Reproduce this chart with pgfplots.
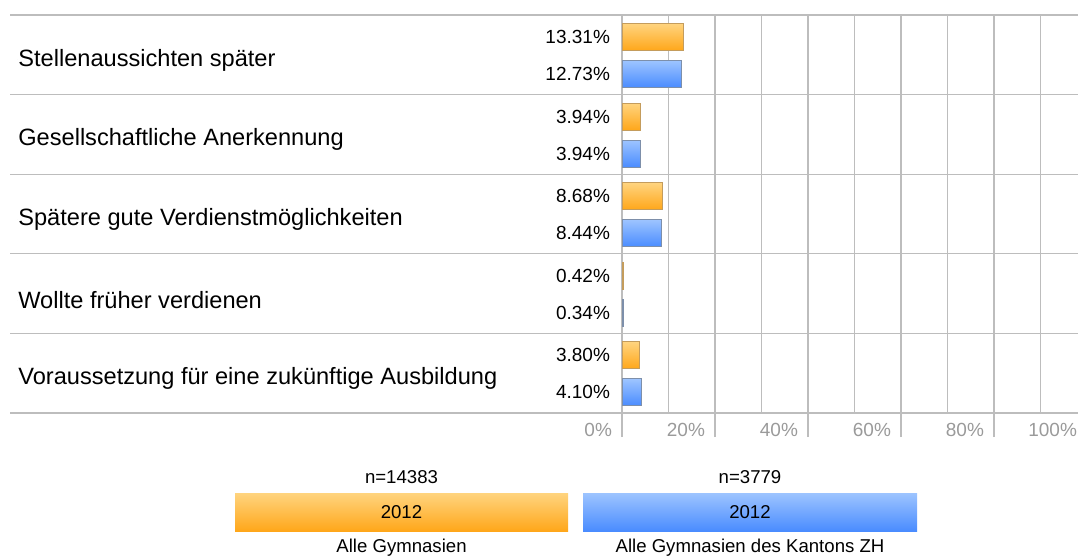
\documentclass[border=0pt]{standalone}
\usepackage{pgfplots}
\pgfplotsset{compat=1.18}
\usepackage{fontspec}
\setmainfont{Liberation Sans}
\definecolor{gridc}{HTML}{BDBDBD}
\definecolor{tickc}{HTML}{9A9A9A}
\definecolor{otop}{HTML}{FFD47F}
\definecolor{obot}{HTML}{FFA71A}
\definecolor{btop}{HTML}{9DC4FF}
\definecolor{bbot}{HTML}{4A8CFF}
\definecolor{oedge}{HTML}{C49C5C}
\definecolor{bedge}{HTML}{7D8FAA}
\pgfplotsset{
  obar/.style={xbar, bar shift=0pt, bar width=13.5pt, top color=otop, bottom color=obot, draw=oedge, line width=0.5pt},
  bbar/.style={xbar, bar shift=0pt, bar width=13.5pt, top color=btop, bottom color=bbot, draw=bedge, line width=0.5pt},
}
\begin{document}
\begin{tikzpicture}
\useasboundingbox (0,0) rectangle (539pt,-279pt);
\begin{axis}[
  at={(311pt,-206.5pt)}, anchor=south west,
  width=232.5pt, height=199pt, scale only axis,
  xmin=0, xmax=100, ymin=0, ymax=5, y dir=reverse,
  clip=false,
  axis line style={draw=none},
  xtick={0,20,40,60,80,100},
  minor xtick={10,30,50,70,90},
  xticklabels={0\%,20\%,40\%,60\%,80\%,100\%},
  xtick pos=lower,
  xmajorgrids, xminorgrids,
  major grid style={gridc, line width=0.6pt},
  minor grid style={gridc, line width=0.6pt},
  tick align=outside, major tick length=12pt, minor tick length=0pt,
  xtick style={gridc, line width=0.6pt},
  xticklabel style={font=\fontsize{9.5}{10}\selectfont, text=tickc, anchor=base east, xshift=-1.5pt, yshift=0.5pt},
  ytick=\empty,
]
\foreach \k in {0,...,5} {
  \edef\tmp{\noexpand\draw[gridc, line width=0.6pt] (axis cs:-131.6,\k) -- (axis cs:100,\k);}
  \tmp
}
\addplot[obar] coordinates {(13.31,0.276)};
\addplot[obar] coordinates {(3.94,1.276)};
\addplot[obar] coordinates {(8.68,2.276)};
\addplot[obar] coordinates {(0.42,3.276)};
\addplot[obar] coordinates {(3.80,4.276)};
\addplot[bbar] coordinates {(12.73,0.741)};
\addplot[bbar] coordinates {(3.94,1.741)};
\addplot[bbar] coordinates {(8.44,2.741)};
\addplot[bbar] coordinates {(0.34,3.741)};
\addplot[bbar] coordinates {(4.10,4.741)};
% value labels
\addplot[only marks, mark=*, mark size=0pt, mark options={draw=none, fill=none},
  point meta=explicit symbolic, nodes near coords,
  every node near coord/.style={anchor=east, xshift=-2.5pt, font=\fontsize{9.5}{10}\selectfont, text=black}]
  coordinates {(0,0.276) [13.31\%] (0,1.276) [3.94\%] (0,2.276) [8.68\%] (0,3.276) [0.42\%] (0,4.276) [3.80\%]
               (0,0.741) [12.73\%] (0,1.741) [3.94\%] (0,2.741) [8.44\%] (0,3.741) [0.34\%] (0,4.741) [4.10\%]};
% category labels
\addplot[only marks, mark=*, mark size=0pt, mark options={draw=none, fill=none},
  point meta=explicit symbolic, nodes near coords,
  every node near coord/.style={anchor=west, inner sep=0pt, font=\fontsize{11.8}{13}\selectfont, text=black}]
  coordinates {(-129.9,0.565) [Stellenaussichten später] (-129.9,1.565) [Gesellschaftliche Anerkennung]
               (-129.9,2.565) [Spätere gute Verdienstmöglichkeiten] (-129.9,3.585) [Wollte früher verdienen]
               (-129.9,4.565) [Voraussetzung für eine zukünftige Ausbildung]};
\end{axis}
\begin{scope}[x=0.5pt, y=-0.5pt]
  \shade[top color=otop, bottom color=obot] (235,493) rectangle (568,531);
  \shade[top color=btop, bottom color=bbot] (583,493) rectangle (917,531);
  \begin{scope}[font=\fontsize{9.3}{10}\selectfont]
  \node at (401.5,477) {n=14383};
  \node at (401.5,512) {2012};
  \node at (401.5,548) {Alle Gymnasien};
  \node at (750,477) {n=3779};
  \node at (750,512) {2012};
  \node at (750,548) {Alle Gymnasien des Kantons ZH};
  \end{scope}
\end{scope}
\end{tikzpicture}
\end{document}
